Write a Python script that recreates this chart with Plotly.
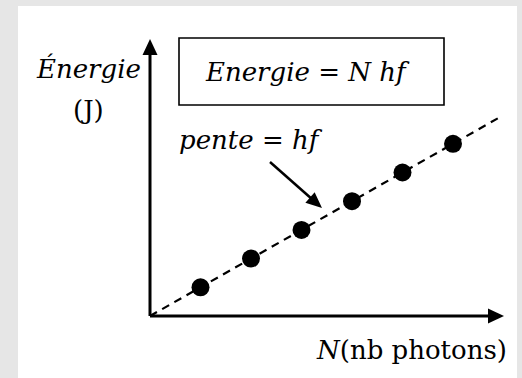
import plotly.graph_objects as go

# Measurements: number of photons N and the energy carried (units of hf)
n_photons = [1, 2, 3, 4, 5, 6]
energy = [1.0, 2.0, 3.0, 4.0, 5.0, 6.0]
hf = 1.0                      # slope of the line E = N hf
n_line_end = 6.9              # dashed line extends a little past the last point

# Figure geometry (pixels)
W, H = 522, 378
ORIGIN = (150, 316)           # pixel position of (N=0, E=0)
PX_PER_N = 50.5
PX_PER_E = 28.7

x_range = [-ORIGIN[0] / PX_PER_N, (W - ORIGIN[0]) / PX_PER_N]
y_range = [-(H - ORIGIN[1]) / PX_PER_E, ORIGIN[1] / PX_PER_E]

SERIF = "DejaVu Serif"


def px(x, y):
    """Pixel position -> paper coordinates."""
    return x / W, 1 - y / H


def tri_path(tip, tail, length=16, half=7.5):
    """Filled arrowhead (paper coords) pointing from tail to tip."""
    dx, dy = tip[0] - tail[0], tip[1] - tail[1]
    norm = (dx * dx + dy * dy) ** 0.5
    ux, uy = dx / norm, dy / norm
    bx, by = tip[0] - length * ux, tip[1] - length * uy
    pts = [tip, (bx - half * uy, by + half * ux), (bx + half * uy, by - half * ux)]
    pp = [px(*p) for p in pts]
    return "M {} {} L {} {} L {} {} Z".format(pp[0][0], pp[0][1], pp[1][0], pp[1][1], pp[2][0], pp[2][1])


fig = go.Figure()

# Proportionality line E = N hf
line_n = [0, n_line_end]
fig.add_trace(go.Scatter(
    x=line_n, y=[hf * n for n in line_n], mode="lines",
    line=dict(color="black", width=2.2, dash="8px,6px"),
    hoverinfo="skip", showlegend=False, cliponaxis=False,
))

# Measured points
fig.add_trace(go.Scatter(
    x=n_photons, y=energy, mode="markers",
    marker=dict(color="black", size=18),
    showlegend=False, cliponaxis=False,
))

shapes = []
# white panel
x0, y0 = px(18, H)
x1, y1 = px(517, 6)
shapes.append(dict(type="rect", xref="paper", yref="paper", x0=x0, y0=y0, x1=x1, y1=y1,
                   fillcolor="white", line=dict(width=0), layer="below"))

# axes with arrowheads
y_tip = (ORIGIN[0], 39)
x_tip = (504, ORIGIN[1])
for tip in (y_tip, x_tip):
    a = px(*ORIGIN)
    b = px(tip[0] - (14 if tip is x_tip else 0), tip[1] + (14 if tip is y_tip else 0))
    shapes.append(dict(type="line", xref="paper", yref="paper", x0=a[0], y0=a[1], x1=b[0], y1=b[1],
                       line=dict(color="black", width=3)))
    shapes.append(dict(type="path", xref="paper", yref="paper", path=tri_path(tip, ORIGIN),
                       fillcolor="black", line=dict(width=0)))

# formula box
bx0, by0 = px(179, 105)
bx1, by1 = px(444, 38)
shapes.append(dict(type="rect", xref="paper", yref="paper", x0=bx0, y0=by0, x1=bx1, y1=by1,
                   fillcolor="rgba(0,0,0,0)", line=dict(color="black", width=1.6)))

# pointer to the slope
p_tail = (270, 162)
p_tip = (322, 208)
a = px(*p_tail)
b = px(p_tip[0] - 12 * 0.749, p_tip[1] - 12 * 0.663)
shapes.append(dict(type="line", xref="paper", yref="paper", x0=a[0], y0=a[1], x1=b[0], y1=b[1],
                   line=dict(color="black", width=2.5)))
shapes.append(dict(type="path", xref="paper", yref="paper", path=tri_path(p_tip, p_tail, 16, 7),
                   fillcolor="black", line=dict(width=0)))


def label(text, x, y, size=26):
    pxx, pyy = px(x, y)
    return dict(text=text, xref="paper", yref="paper", x=pxx, y=pyy,
                xanchor="center", yanchor="middle", showarrow=False,
                font=dict(family=SERIF, size=size, color="black"))


annotations = [
    label("<i>Énergie</i>", 88, 68),
    label("(J)", 88, 110),
    label("<i>Energie</i> = <i>N hf</i>", 307, 72),
    label("<i>pente</i> = <i>hf</i>", 251, 140),
    label("<i>N</i>(nb photons)", 411, 350),
]

fig.update_layout(
    width=W, height=H,
    margin=dict(l=0, r=0, t=0, b=0),
    paper_bgcolor="#e6e6e6",
    plot_bgcolor="rgba(0,0,0,0)",
    xaxis=dict(range=x_range, visible=False, domain=[0, 1], fixedrange=True),
    yaxis=dict(range=y_range, visible=False, domain=[0, 1], fixedrange=True),
    shapes=shapes,
    annotations=annotations,
    showlegend=False,
)

fig.write_html("out.html", config={"displayModeBar": False})
